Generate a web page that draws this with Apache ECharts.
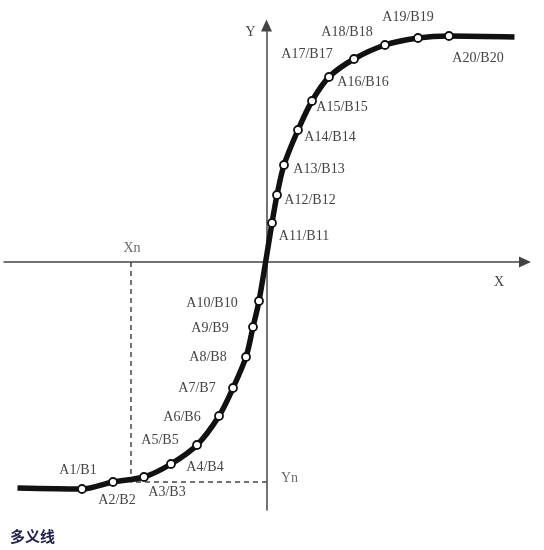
<!DOCTYPE html>
<html>
<head>
<meta charset="utf-8">
<script src="https://cdn.jsdelivr.net/npm/echarts@6/dist/echarts.min.js"></script>
<style>html,body{margin:0;padding:0;background:#fff}#c{width:544px;height:550px}</style>
</head>
<body>
<div id="c"></div>
<script>
// ---- data (axis units are arbitrary, origin at the axis crossing) ----
const pointNames = ['A1/B1','A2/B2','A3/B3','A4/B4','A5/B5','A6/B6','A7/B7','A8/B8','A9/B9','A10/B10',
                    'A11/B11','A12/B12','A13/B13','A14/B14','A15/B15','A16/B16','A17/B17','A18/B18','A19/B19','A20/B20'];
const pointX = [-18.45,-15.35,-12.25,-9.55,-6.95,-4.75,-3.35,-2.05,-1.35,-0.75,
                 0.55, 1.05, 1.75, 3.15, 4.55, 6.25, 8.75, 11.85, 15.15, 18.25];
const pointY = [-22.7,-22.0,-21.5,-20.2,-18.3,-15.4,-12.6,-9.5,-6.5,-3.9,
                 3.9, 6.7, 9.7, 13.2, 16.1, 18.5, 20.3, 21.7, 22.4, 22.6];
const tailX = [-24.9, 24.8];
const tailY = [-22.6, 22.5];
const xn = -13.55;
const yn = -22.0;
const axisNames = ['X', 'Y'];
const refNames = ['Xn', 'Yn'];
const caption = '多义线';

// ---- layout (label offsets in px, not data) ----
const labelOffsets = [[-4,-19],[4,18],[23,15],[34,3],[-37,-5],[-37,1],[-36,0],[-38,0],[-43,1],[-47,2],
                      [32,13],[33,5],[35,4],[32,7],[30,6],[34,5],[-47,-5],[-38,-13],[-10,-21],[29,22]];

const labelFont = {fontFamily: 'Liberation Serif', fontSize: 14, color: '#444'};

const curveData = [[tailX[0], tailY[0]]];
pointX.forEach((x, i) => curveData.push([x, pointY[i]]));
curveData.push([tailX[1], tailY[1]]);

const markerData = pointNames.map((n, i) => ({
  value: [pointX[i], pointY[i]],
  name: n,
  label: {show: true, formatter: n, offset: labelOffsets[i]}
}));

const chart = echarts.init(document.getElementById('c'), null, {renderer: 'canvas'});
chart.setOption({
  animation: false,
  title: {
    text: caption, left: 5, top: 524,
    textStyle: {fontSize: 15, fontWeight: 'bold', color: '#23234a', fontFamily: 'Noto Sans CJK SC'}
  },
  grid: {left: 4, right: 19, top: 25.5, bottom: 40, containLabel: false},
  xAxis: {
    type: 'value', min: -26.25, max: 25.85,
    axisLine: {onZero: true, symbol: ['none', 'triangle'], symbolSize: [11, 12],
      lineStyle: {color: '#444', width: 1.5}},
    axisTick: {show: false}, axisLabel: {show: false}, splitLine: {show: false},
    name: axisNames[0], nameLocation: 'end', nameGap: -26,
    nameTextStyle: Object.assign({align: 'center', verticalAlign: 'top', padding: [13, 0, 0, 0]}, labelFont)
  },
  yAxis: {
    type: 'value', min: -24.8, max: 23.65,
    axisLine: {onZero: true, symbol: ['none', 'triangle'], symbolSize: [11, 12],
      lineStyle: {color: '#444', width: 1.5}},
    axisTick: {show: false}, axisLabel: {show: false}, splitLine: {show: false},
    name: axisNames[1], nameLocation: 'end', nameGap: -7,
    nameTextStyle: Object.assign({align: 'right', verticalAlign: 'middle', padding: [0, 11, 0, 0]}, labelFont)
  },
  series: [
    {
      type: 'line', z: 1, silent: true,
      data: [[xn, 0], [xn, yn], [0, yn]],
      symbol: 'none',
      lineStyle: {color: '#444', width: 1.5, type: [5, 4]}
    },
    {
      type: 'scatter', z: 1, silent: true, symbolSize: 0,
      data: [
        {value: [xn, 0], label: {show: true, formatter: refNames[0], offset: [1, -14]}},
        {value: [0, yn], label: {show: true, formatter: refNames[1], offset: [23, -4]}}
      ],
      label: Object.assign({position: 'inside', align: 'center', verticalAlign: 'middle'}, labelFont)
    },
    {
      type: 'line', z: 3, silent: true, smooth: 0.3,
      data: curveData,
      symbol: 'none',
      lineStyle: {color: '#111', width: 5.5, cap: 'butt'}
    },
    {
      type: 'scatter', z: 4, silent: true,
      data: markerData,
      symbol: 'circle', symbolSize: 8,
      itemStyle: {color: '#fff', borderColor: '#111', borderWidth: 1.8, opacity: 1},
      label: Object.assign({position: 'inside', align: 'center', verticalAlign: 'middle'}, labelFont)
    }
  ]
});
</script>
</body>
</html>
